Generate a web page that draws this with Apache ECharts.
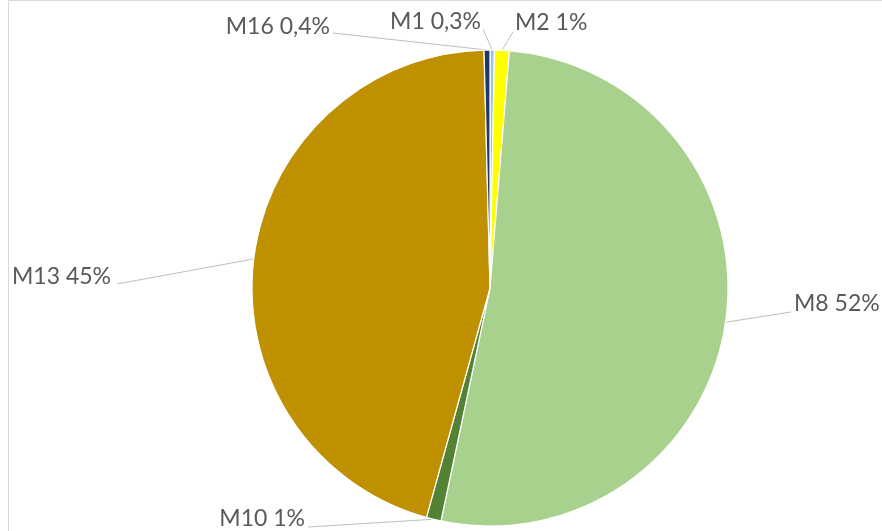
<!DOCTYPE html>
<html><head><meta charset="utf-8">
<script src="https://cdn.jsdelivr.net/npm/echarts@6/dist/echarts.min.js"></script>
<style>html,body{margin:0;padding:0;background:#fff}#c{width:882px;height:531px}</style>
</head><body><div id="c"></div>
<script>
const categories = ['M1', 'M2', 'M8', 'M10', 'M13', 'M16'];
const values = [0.3, 1.0, 52.0, 1.0, 45.3, 0.4];
const colors = ['#9dc3e6', '#ffff00', '#a9d18e', '#548235', '#bf9000', '#1f3864'];

// label placement (text anchor + leader end), layout only
const labelPlace = {
  M1:  {x: 481, y: 22, align: 'right', end: [483, 29]},
  M2:  {x: 515, y: 23, align: 'left',  end: [513, 32]},
  M8:  {x: 794, y: 304, align: 'left', end: [791, 312]},
  M10: {x: 305, y: 519, align: 'right', end: [308, 527]},
  M13: {x: 111, y: 277, align: 'right', end: [117, 284]},
  M16: {x: 330, y: 27, align: 'right', end: [333, 33]}
};

const chart = echarts.init(document.getElementById('c'), null, {renderer: 'canvas'});
chart.setOption({
  animation: false,
  backgroundColor: '#fff',
  graphic: [{
    type: 'rect', shape: {x: 8.5, y: 0.5, width: 900, height: 600},
    style: {fill: 'none', stroke: '#d9d9d9', lineWidth: 1}, silent: true
  }],
  series: [{
    type: 'pie',
    center: [490, 288],
    radius: 238,
    startAngle: 90,
    clockwise: true,
    avoidLabelOverlap: false,
    data: categories.map((c, i) => ({name: c, value: values[i], itemStyle: {color: colors[i]}})),
    itemStyle: {borderColor: '#ffffff', borderWidth: 1.2},
    label: {
      show: true,
      position: 'outside',
      fontFamily: 'Lato',
      fontSize: 23,
      color: '#595959',
      formatter: p => {
        const pct = p.percent < 1 ? p.percent.toFixed(1).replace('.', ',') : Math.round(p.percent);
        return p.name + ' ' + pct + '%';
      }
    },
    labelLine: {show: true, length: 10, length2: 10, lineStyle: {color: '#bfbfbf', width: 1}},
    labelLayout: params => {
      const name = categories[params.dataIndex];
      const lp = labelPlace[name];
      const start = params.labelLinePoints ? params.labelLinePoints[0] : lp.end;
      return {
        x: lp.x, y: lp.y, align: lp.align, verticalAlign: 'middle',
        labelLinePoints: [start, lp.end, lp.end]
      };
    },
    emphasis: {disabled: true}
  }]
});
</script></body></html>
